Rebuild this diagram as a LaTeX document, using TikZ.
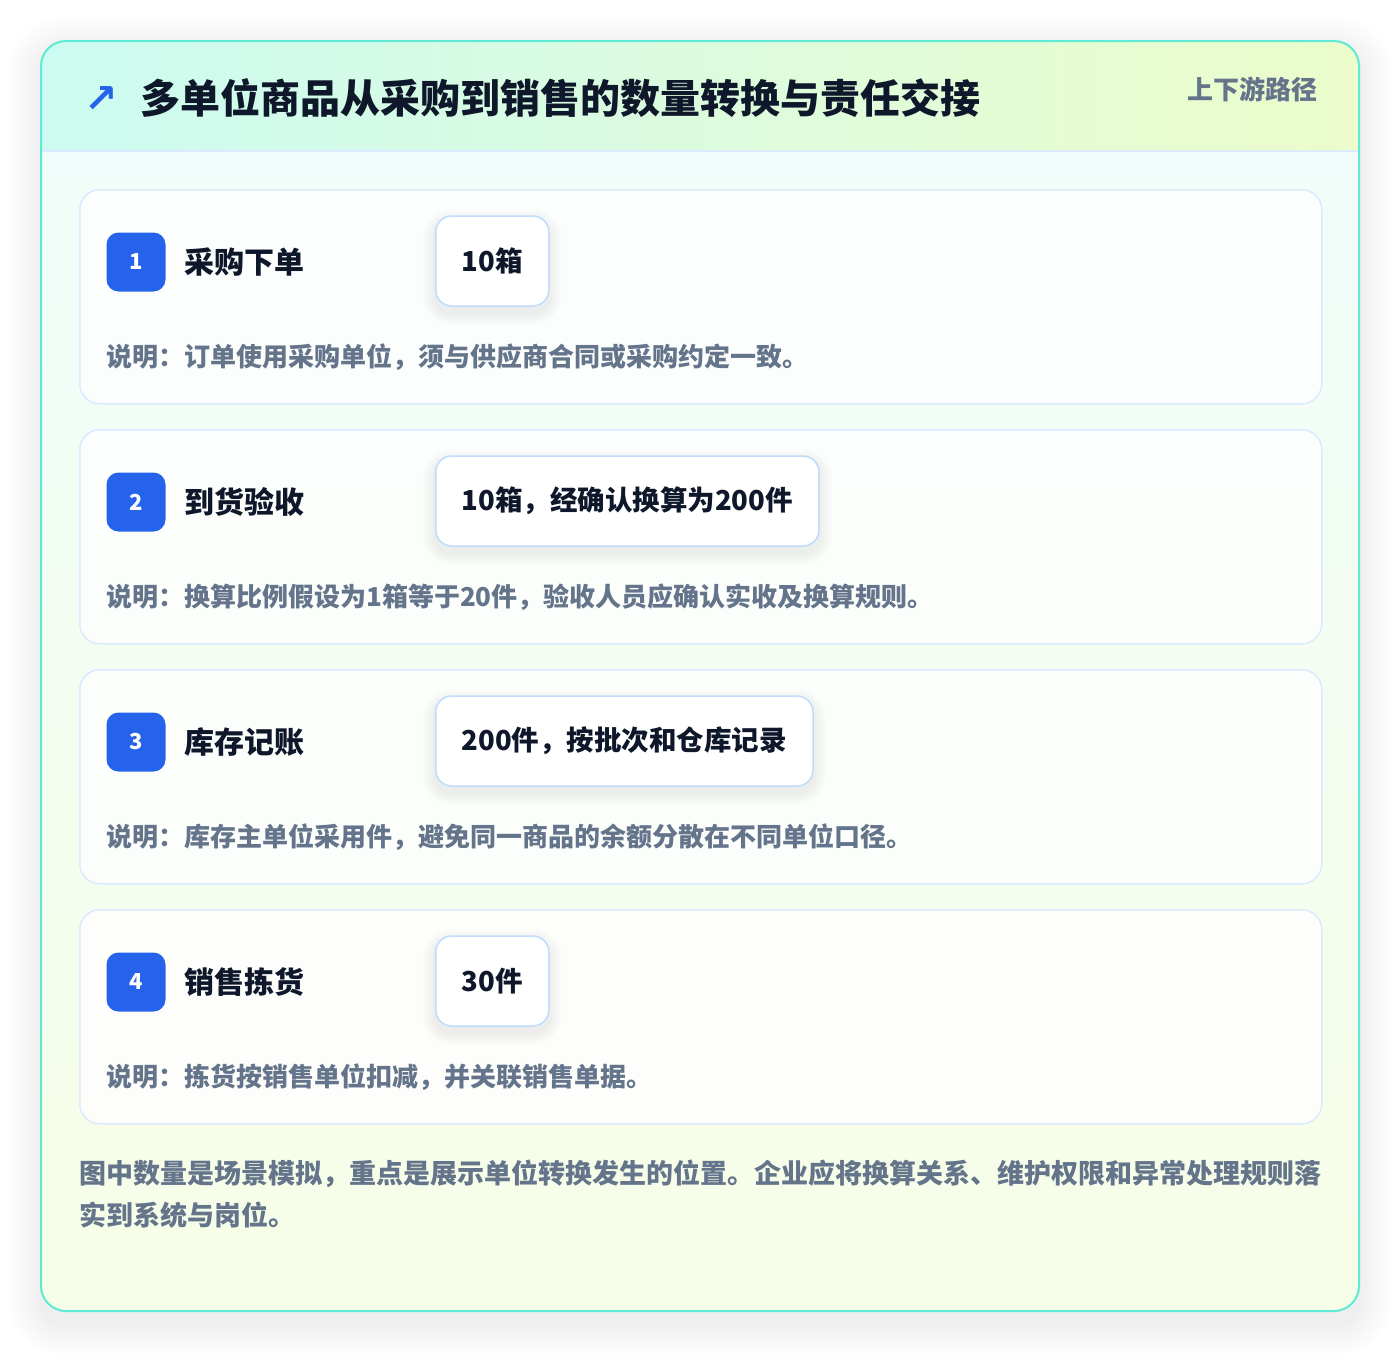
\documentclass[tikz,border=0pt]{standalone}
\usepackage{fontspec}
\setmainfont{Noto Sans CJK SC}
\newfontfamily\symfont{DejaVu Sans}
\usetikzlibrary{positioning}

\definecolor{ink}{HTML}{0F172A}
\definecolor{muted}{HTML}{64748B}
\definecolor{badgeblue}{HTML}{2563EB}
\definecolor{frameline}{HTML}{5EEAD4}
\definecolor{cardline}{HTML}{DBEAFE}
\definecolor{valline}{HTML}{BFDBFE}
\definecolor{headleft}{HTML}{CCFBF1}
\definecolor{headright}{HTML}{ECFCCB}
\definecolor{bodytop}{HTML}{F0FDFA}
\definecolor{bodybot}{HTML}{F7FEE7}

\tikzset{
  stepcard/.style={draw=cardline, line width=1.5pt, fill=white, fill opacity=0.8,
    rounded corners=20pt, minimum width=1242pt, minimum height=214pt,
    anchor=north west, inner sep=0pt},
  badge/.style={fill=badgeblue, rounded corners=12pt, minimum size=59pt, inner sep=0pt,
    text=white, font=\fontsize{22}{22}\selectfont\bfseries},
  steptitle/.style={anchor=west, inner sep=0pt, text=ink,
    font=\fontsize{30}{30}\selectfont\bfseries},
  valbox/.style={draw=valline, line width=1.5pt, fill=white, rounded corners=16pt,
    minimum height=90pt, inner xsep=26pt, anchor=west, text=ink,
    font=\fontsize{27.5}{27.5}\selectfont\bfseries},
  desc/.style={anchor=west, inner sep=0pt, text=muted,
    font=\fontsize{26}{26}\selectfont\bfseries},
  softshade/.style={fill=black, fill opacity=#1},
}

\begin{document}
\begin{tikzpicture}[x=1pt,y=-1pt]
\useasboundingbox[fill=white] (0,0) rectangle (1400,1352);

% soft shadow of the frame
\foreach \i in {1,...,16}
  \fill[softshade=0.0045, rounded corners={25pt+2.2*\i pt}]
    (41-2.2*\i,51-2.2*\i) rectangle (1359+2.2*\i,1323+2.2*\i);

% outer frame
\begin{scope}
  \clip[rounded corners=25pt] (41,41) rectangle (1359,1311);
  \fill[white] (41,41) rectangle (1359,1311);
  \shade[top color=bodytop, bottom color=bodybot] (41,151) rectangle (1359,1311);
  \shade[left color=headleft, right color=headright] (41,41) rectangle (1359,151);
  \draw[cardline, line width=1.5pt] (41,151) -- (1359,151);
\end{scope}
\draw[frameline, line width=2pt, rounded corners=25pt] (41,41) rectangle (1359,1311);

% header
\node[text=badgeblue, font=\symfont\bfseries\fontsize{40}{40}\selectfont] (icon) at (101,99) {↗};
\node[anchor=west, inner sep=0pt, text=ink, font=\fontsize{40}{40}\selectfont\bfseries] (title) at (140,98)
  {多单位商品从采购到销售的数量转换与责任交接};
\node[anchor=east, inner sep=0pt, text=muted, font=\fontsize{26}{26}\selectfont\bfseries] (tag) at (1318,89)
  {上下游路径};

% steps
\foreach \n/\ttl/\val/\dsc in {
  1/采购下单/10箱/说明：订单使用采购单位，须与供应商合同或采购约定一致。,
  2/到货验收/10箱，经确认换算为200件/说明：换算比例假设为1箱等于20件，验收人员应确认实收及换算规则。,
  3/库存记账/200件，按批次和仓库记录/说明：库存主单位采用件，避免同一商品的余额分散在不同单位口径。,
  4/销售拣货/30件/说明：拣货按销售单位扣减，并关联销售单据。}
{
  \pgfmathsetmacro{\top}{189+240*(\n-1)}
  \node[stepcard] (card\n) at (79,\top) {};
  \node[badge] (badge\n) at ([shift={(57,73)}]card\n.north west) {\n};
  \node[steptitle, right=19pt of badge\n] (name\n) {\ttl};
  \node[valbox, opacity=0] (ghost\n) at ([shift={(356,72)}]card\n.north west) {\val};
  % shadow under the value box
  \foreach \j in {1,...,8}
    \fill[softshade=0.007, rounded corners={16pt+1.5*\j pt}]
      ([shift={(-1.5*\j,6-1.5*\j)}]ghost\n.north west) rectangle ([shift={(1.5*\j,6+1.5*\j)}]ghost\n.south east);
  \node[valbox] (val\n) at ([shift={(356,72)}]card\n.north west) {\val};
  \node[desc] (desc\n) at ([shift={(27,168)}]card\n.north west) {\dsc};
}

% footnote
\node[anchor=north west, inner sep=0pt, align=left, text=muted,
  font=\fontsize{27}{42}\selectfont\bfseries] (note) at (79,1160)
  {图中数量是场景模拟，重点是展示单位转换发生的位置。企业应将换算关系、维护权限和异常处理规则落\\实到系统与岗位。};

\end{tikzpicture}
\end{document}
